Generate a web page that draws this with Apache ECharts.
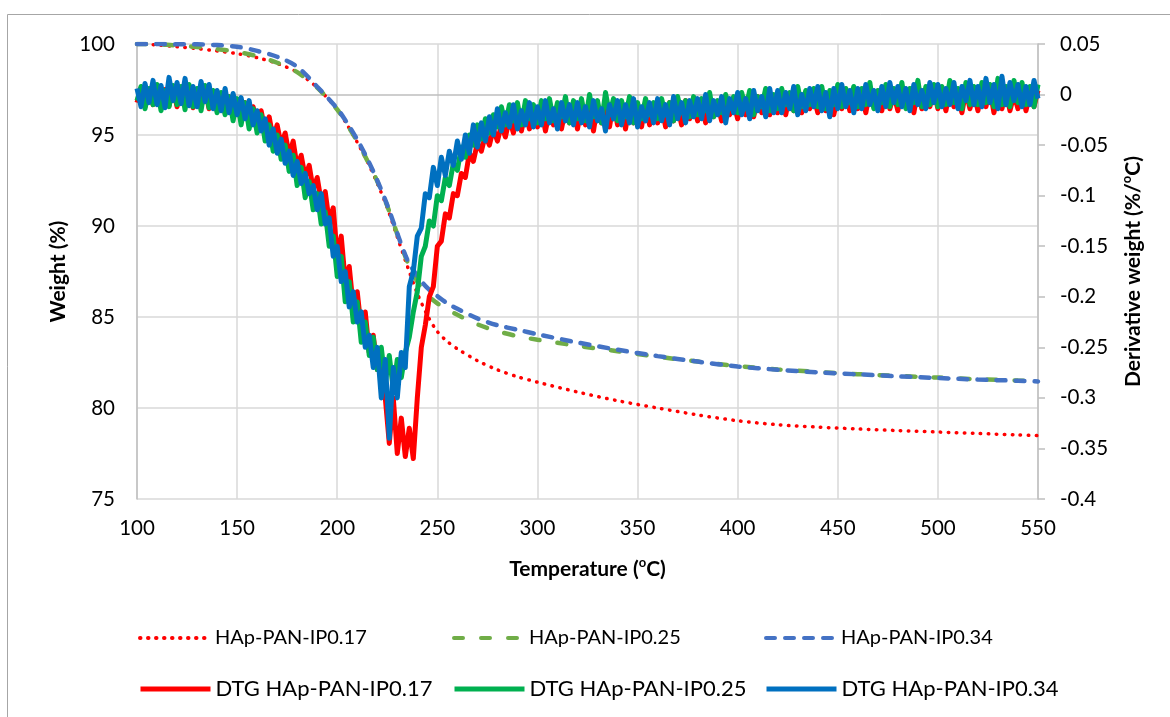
<!DOCTYPE html>
<html>
<head>
<meta charset="utf-8">
<script src="https://cdn.jsdelivr.net/npm/echarts@6/dist/echarts.min.js"></script>
<style>
html,body{margin:0;padding:0;background:#fff;}
#chart{width:1170px;height:717px;}
</style>
</head>
<body>
<div id="chart"></div>
<script>
// ---------- DATA ----------
const seriesNames = ['HAp-PAN-IP0.17','HAp-PAN-IP0.25','HAp-PAN-IP0.34','DTG HAp-PAN-IP0.17','DTG HAp-PAN-IP0.25','DTG HAp-PAN-IP0.34'];

// TG curves: temperature (°C) and weight (%)
const tTG = [100,110,120,130,140,150,160,170,180,190,200,205,210,215,220,225,230,235,240,245,250,255,260,270,280,290,300,320,340,360,380,400,420,440,460,480,500,520,540,550];
const wTG017 = [100.0,99.95,99.85,99.75,99.62,99.47,99.25,98.93,98.45,97.6,96.4,95.55,94.6,93.55,92.35,91.0,89.4,87.8,86.3,85.1,84.2,83.65,83.25,82.6,82.1,81.72,81.42,80.88,80.4,80.0,79.62,79.3,79.08,78.95,78.85,78.76,78.68,78.6,78.52,78.48];
const wTG025 = [100.0,99.98,99.92,99.83,99.72,99.57,99.33,98.97,98.45,97.6,96.4,95.55,94.65,93.6,92.45,91.1,89.55,88.05,86.95,86.2,85.75,85.42,85.12,84.6,84.22,83.95,83.75,83.42,83.12,82.82,82.55,82.3,82.12,81.98,81.86,81.76,81.67,81.58,81.51,81.48];
const wTG034 = [100.0,100.0,99.99,99.98,99.94,99.85,99.62,99.3,98.75,97.65,96.45,95.65,94.75,93.7,92.5,91.15,89.6,88.15,87.25,86.6,86.15,85.75,85.45,84.92,84.55,84.3,84.05,83.6,83.2,82.85,82.55,82.28,82.1,81.96,81.85,81.74,81.65,81.56,81.5,81.46];

// DTG curves: temperature (°C) and derivative weight (%/°C)
const tDTG = [
100,102,104,106,108,110,112,114,116,118,
120,122,124,126,128,130,132,134,136,138,
140,142,144,146,148,150,152,154,156,158,
160,162,164,166,168,170,172,174,176,178,
180,182,184,186,188,190,192,194,196,198,
200,202,204,206,208,210,212,214,216,218,
220,222,224,226,228,230,232,234,236,238,
240,242,244,246,248,250,252,254,256,258,
260,262,264,266,268,270,272,274,276,278,
280,282,284,286,288,290,292,294,296,298,
300,302,304,306,308,310,312,314,316,318,
320,322,324,326,328,330,332,334,336,338,
340,342,344,346,348,350,352,354,356,358,
360,362,364,366,368,370,372,374,376,378,
380,382,384,386,388,390,392,394,396,398,
400,402,404,406,408,410,412,414,416,418,
420,422,424,426,428,430,432,434,436,438,
440,442,444,446,448,450,452,454,456,458,
460,462,464,466,468,470,472,474,476,478,
480,482,484,486,488,490,492,494,496,498,
500,502,504,506,508,510,512,514,516,518,
520,522,524,526,528,530,532,534,536,538,
540,542,544,546,548,550];

const dtg017 = [
-0.008,0.006,-0.012,0.004,-0.010,0.007,-0.013,0.005,-0.011,0.006,
-0.012,0.005,-0.010,0.007,-0.013,0.004,-0.012,0.006,-0.014,0.002,
-0.016,0.000,-0.018,-0.002,-0.020,-0.006,-0.022,-0.008,-0.026,-0.012,
-0.030,-0.016,-0.036,-0.022,-0.044,-0.030,-0.050,-0.038,-0.060,-0.046,
-0.072,-0.060,-0.082,-0.070,-0.094,-0.082,-0.106,-0.096,-0.126,-0.112,
-0.160,-0.140,-0.185,-0.170,-0.210,-0.195,-0.232,-0.215,-0.255,-0.238,
-0.272,-0.255,-0.300,-0.345,-0.300,-0.355,-0.320,-0.358,-0.330,-0.360,
-0.300,-0.250,-0.228,-0.200,-0.190,-0.150,-0.145,-0.118,-0.122,-0.098,
-0.100,-0.078,-0.082,-0.058,-0.066,-0.048,-0.056,-0.040,-0.050,-0.034,
-0.046,-0.030,-0.042,-0.024,-0.038,-0.020,-0.036,-0.016,-0.034,-0.018,
-0.032,-0.014,-0.036,-0.016,-0.030,-0.010,-0.034,-0.014,-0.028,-0.012,
-0.034,-0.012,-0.030,-0.016,-0.036,-0.010,-0.028,-0.014,-0.032,-0.008,
-0.030,-0.012,-0.034,-0.010,-0.028,-0.014,-0.032,-0.008,-0.030,-0.012,
-0.028,-0.010,-0.032,-0.008,-0.026,-0.012,-0.030,-0.006,-0.024,-0.010,
-0.026,-0.008,-0.028,-0.004,-0.022,-0.010,-0.026,-0.006,-0.020,-0.008,
-0.024,-0.004,-0.020,-0.008,-0.022,-0.002,-0.018,-0.006,-0.020,-0.004,
-0.018,-0.002,-0.020,0.000,-0.016,-0.004,-0.018,0.002,-0.014,-0.002,
-0.018,0.000,-0.016,0.002,-0.020,-0.002,-0.014,0.004,-0.016,0.000,
-0.014,0.002,-0.018,0.004,-0.012,-0.002,-0.016,0.006,-0.014,0.000,
-0.016,0.004,-0.012,0.002,-0.018,0.006,-0.014,0.000,-0.012,0.004,
-0.014,0.002,-0.016,0.006,-0.012,0.000,-0.018,0.004,-0.014,0.002,
-0.016,0.004,-0.012,0.006,-0.018,0.002,-0.014,0.004,-0.016,0.000,
-0.014,0.004,-0.016,0.002,-0.012,0.004];

const dtg025 = [
-0.006,0.008,-0.014,0.006,-0.010,0.010,-0.016,0.004,-0.012,0.009,
-0.010,0.008,-0.015,0.010,-0.012,0.006,-0.016,0.009,-0.013,0.004,
-0.018,0.002,-0.020,-0.002,-0.026,-0.004,-0.030,-0.008,-0.034,-0.014,
-0.038,-0.020,-0.046,-0.030,-0.056,-0.040,-0.064,-0.050,-0.076,-0.060,
-0.090,-0.072,-0.102,-0.086,-0.114,-0.098,-0.128,-0.116,-0.150,-0.140,
-0.180,-0.160,-0.205,-0.185,-0.225,-0.205,-0.245,-0.225,-0.258,-0.240,
-0.272,-0.250,-0.285,-0.258,-0.292,-0.262,-0.280,-0.255,-0.240,-0.215,
-0.195,-0.160,-0.150,-0.125,-0.130,-0.100,-0.105,-0.082,-0.090,-0.068,
-0.075,-0.052,-0.062,-0.040,-0.050,-0.030,-0.044,-0.024,-0.038,-0.020,
-0.032,-0.012,-0.030,-0.010,-0.026,-0.008,-0.030,-0.006,-0.024,-0.010,
-0.028,-0.006,-0.024,-0.004,-0.026,-0.008,-0.022,-0.002,-0.028,-0.006,
-0.024,-0.004,-0.026,0.000,-0.022,-0.006,-0.028,0.002,-0.020,-0.004,
-0.026,-0.006,-0.022,-0.002,-0.028,-0.008,-0.024,-0.004,-0.020,-0.008,
-0.024,-0.004,-0.020,-0.008,-0.026,-0.002,-0.018,-0.006,-0.022,-0.002,
-0.020,-0.004,-0.016,0.002,-0.022,-0.006,-0.018,0.000,-0.014,-0.002,
-0.018,0.002,-0.014,0.004,-0.020,-0.002,-0.012,0.006,-0.016,0.000,
-0.014,0.006,-0.010,0.002,-0.016,0.008,-0.012,0.004,-0.010,0.006,
-0.012,0.008,-0.014,0.004,-0.010,0.010,-0.012,0.006,-0.008,0.008,
-0.012,0.006,-0.010,0.012,-0.014,0.004,-0.008,0.010,-0.012,0.006,
-0.010,0.012,-0.014,0.006,-0.008,0.014,-0.012,0.008,-0.010,0.010,
-0.012,0.008,-0.010,0.014,-0.008,0.006,-0.014,0.012,-0.010,0.008,
-0.010,0.012,-0.008,0.010,-0.012,0.016,-0.010,0.008,-0.012,0.014,
-0.008,0.012,-0.010,0.008,-0.012,0.010];

const dtg034 = [
0.006,-0.012,0.011,-0.008,0.014,-0.010,0.009,-0.013,0.017,-0.006,
0.012,-0.009,0.016,-0.011,0.008,-0.012,0.013,-0.007,0.010,-0.014,
0.004,-0.016,0.006,-0.018,0.001,-0.020,-0.003,-0.024,-0.006,-0.030,
-0.016,-0.036,-0.024,-0.050,-0.034,-0.058,-0.044,-0.068,-0.056,-0.080,
-0.066,-0.088,-0.078,-0.098,-0.090,-0.114,-0.098,-0.128,-0.122,-0.160,
-0.150,-0.185,-0.175,-0.210,-0.195,-0.225,-0.215,-0.250,-0.238,-0.270,
-0.250,-0.300,-0.262,-0.340,-0.270,-0.300,-0.255,-0.270,-0.190,-0.175,
-0.140,-0.132,-0.098,-0.102,-0.072,-0.090,-0.062,-0.080,-0.056,-0.070,
-0.046,-0.064,-0.040,-0.058,-0.030,-0.052,-0.028,-0.046,-0.022,-0.040,
-0.014,-0.036,-0.018,-0.032,-0.010,-0.034,-0.016,-0.030,-0.008,-0.032,
-0.012,-0.030,-0.006,-0.028,-0.014,-0.034,-0.008,-0.026,-0.010,-0.030,
-0.008,-0.028,-0.012,-0.032,-0.006,-0.026,-0.014,-0.036,-0.010,-0.024,
-0.006,-0.030,-0.010,-0.028,-0.004,-0.032,-0.012,-0.026,-0.008,-0.028,
-0.004,-0.026,-0.010,-0.030,-0.002,-0.024,-0.008,-0.028,-0.006,-0.022,
-0.004,-0.024,0.000,-0.026,-0.006,-0.020,-0.002,-0.028,-0.004,-0.018,
0.002,-0.020,-0.004,-0.024,0.004,-0.016,-0.002,-0.022,0.006,-0.018,
0.004,-0.018,0.002,-0.014,0.008,-0.020,0.000,-0.016,0.006,-0.012,
0.008,-0.016,0.002,-0.022,0.006,-0.014,0.010,-0.012,0.004,-0.018,
0.006,-0.014,0.010,-0.010,0.004,-0.016,0.008,-0.012,0.012,-0.008,
0.008,-0.012,0.006,-0.016,0.010,-0.010,0.004,-0.014,0.012,-0.008,
0.010,-0.012,0.006,-0.010,0.012,-0.014,0.008,-0.006,0.014,-0.010,
0.008,-0.012,0.016,-0.008,0.010,-0.014,0.018,-0.010,0.012,-0.006,
0.010,-0.012,0.008,-0.010,0.014,-0.004];

// ---------- CHART ----------
const pair = (xs, ys) => xs.map((x, i) => [x, ys[i]]);
const FONT = 'Lato';
const gridColor = '#d9d9d9';
const axisColor = '#bfbfbf';

const chart = echarts.init(document.getElementById('chart'), null, {renderer: 'canvas'});

const titleRich = {
  b: {fontFamily: FONT, fontSize: 21, fontWeight: 'bold', color: '#000', lineHeight: 26},
  s: {fontFamily: FONT, fontSize: 13, fontWeight: 'bold', color: '#000', lineHeight: 15, verticalAlign: 'top'}
};

const legendLeft = [133, 447, 759];
const legends = seriesNames.map((n, i) => ({
  data: [n],
  left: legendLeft[i % 3],
  top: i < 3 ? 623 : 673,
  itemWidth: 70,
  itemHeight: 14,
  itemGap: 0,
  selectedMode: false,
  textStyle: {fontFamily: FONT, fontSize: i < 3 ? 20 : 22, color: '#000'},
  itemStyle: {opacity: 0},
  lineStyle: {width: i < 3 ? 4 : 5}
}));

const tickLabel = {fontFamily: FONT, fontSize: 20.5, color: '#000'};

const option = {
  animation: false,
  backgroundColor: '#fff',
  graphic: [{
    type: 'rect', silent: true, z: -10,
    shape: {x: 7.5, y: 14.5, width: 1400, height: 1000},
    style: {fill: 'none', stroke: '#a6a6a6', lineWidth: 1}
  }],
  grid: {left: 137, right: 132, top: 44, bottom: 218, containLabel: false},
  legend: legends,
  xAxis: {
    type: 'value', min: 100, max: 550, interval: 50,
    name: '{b|Temperature (}{s|o}{b|C)}',
    nameLocation: 'middle', nameGap: 57,
    nameTextStyle: {rich: titleRich},
    axisLine: {show: true, lineStyle: {color: axisColor, width: 1.5}},
    axisTick: {show: false},
    axisLabel: Object.assign({margin: 19}, tickLabel),
    splitLine: {show: true, lineStyle: {color: gridColor, width: 1.5}}
  },
  yAxis: [{
    type: 'value', min: 75, max: 100, interval: 5, position: 'left',
    name: '{b|Weight (%)}',
    nameLocation: 'middle', nameGap: 66, nameRotate: 90,
    nameTextStyle: {rich: titleRich},
    axisLine: {show: true, lineStyle: {color: axisColor, width: 1.5}},
    axisTick: {show: false},
    axisLabel: Object.assign({margin: 22}, tickLabel),
    splitLine: {show: true, lineStyle: {color: gridColor, width: 1.5}}
  }, {
    type: 'value', min: -0.4, max: 0.05, interval: 0.05, position: 'right',
    name: '{b|Derivative weight (%/}{s|o}{b|C)}',
    nameLocation: 'middle', nameGap: 82, nameRotate: 90,
    nameTextStyle: {rich: titleRich},
    axisLine: {show: true, lineStyle: {color: axisColor, width: 1.5}},
    axisTick: {show: true, inside: false, length: 7, lineStyle: {color: axisColor, width: 1.5}},
    axisLabel: Object.assign({margin: 22, formatter: v => String(Math.round(v * 100) / 100)}, tickLabel),
    splitLine: {show: false}
  }],
  series: [
    {name: seriesNames[0], type: 'line', yAxisIndex: 0, data: pair(tTG, wTG017), smooth: 0.3, symbol: 'none',
     lineStyle: {color: '#ff0000', width: 3.5, type: [0.5, 7.5], cap: 'round'}, itemStyle: {color: '#ff0000'}, z: 2},
    {name: seriesNames[1], type: 'line', yAxisIndex: 0, data: pair(tTG, wTG025), smooth: 0.3, symbol: 'none',
     lineStyle: {color: '#70ad47', width: 4.5, type: [9, 18], cap: 'round'}, itemStyle: {color: '#70ad47'}, z: 2},
    {name: seriesNames[2], type: 'line', yAxisIndex: 0, data: pair(tTG, wTG034), smooth: 0.3, symbol: 'none',
     lineStyle: {color: '#4472c4', width: 4.5, type: [9, 10], cap: 'round'}, itemStyle: {color: '#4472c4'}, z: 2},
    {name: seriesNames[3], type: 'line', yAxisIndex: 1, data: pair(tDTG, dtg017), symbol: 'none',
     lineStyle: {color: '#ff0000', width: 5, join: 'round'}, itemStyle: {color: '#ff0000'}, z: 3},
    {name: seriesNames[4], type: 'line', yAxisIndex: 1, data: pair(tDTG, dtg025), symbol: 'none',
     lineStyle: {color: '#00b050', width: 5, join: 'round'}, itemStyle: {color: '#00b050'}, z: 3},
    {name: seriesNames[5], type: 'line', yAxisIndex: 1, data: pair(tDTG, dtg034), symbol: 'none',
     lineStyle: {color: '#0070c0', width: 5, join: 'round'}, itemStyle: {color: '#0070c0'}, z: 3}
  ]
};
chart.setOption(option);
</script>
</body>
</html>
